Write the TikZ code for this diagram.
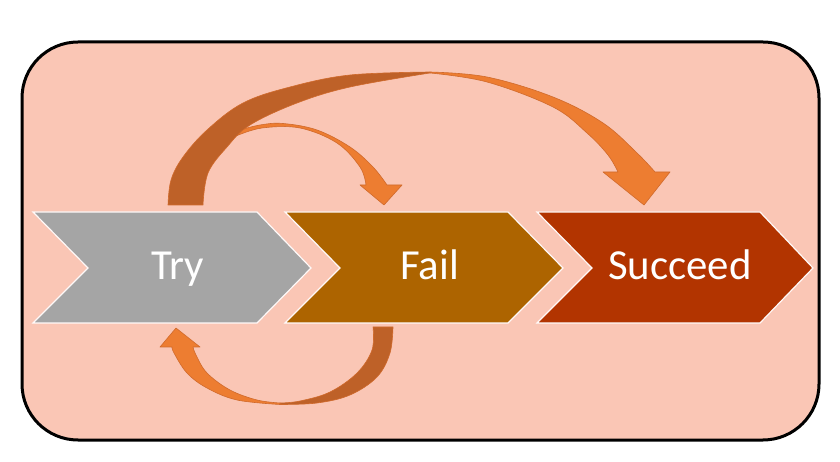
\documentclass[tikz,border=0pt]{standalone}
\usepackage{fontspec}
\setmainfont{Carlito}
\definecolor{salmon}{HTML}{FAC6B5}
\definecolor{trygray}{HTML}{A5A5A5}
\definecolor{failbrown}{HTML}{AD6400}
\definecolor{succred}{HTML}{B23400}
\definecolor{arrdark}{HTML}{BE6128}
\definecolor{arrlight}{HTML}{ED7D31}
\definecolor{arredge}{HTML}{D06A2C}
\tikzset{
  chevbox/.style={draw=white!90!salmon, line width=1.2bp, line join=miter},
  lbl/.style={text=white, font=\fontsize{43}{50}\selectfont, anchor=base, inner sep=0pt},
  ribbon/.style={draw=arredge, line width=0.6bp, line join=round},
}
\begin{document}
\begin{tikzpicture}[x=1bp,y=-1bp]
\useasboundingbox (0,0) rectangle (840,462);
\fill[white] (0,0) rectangle (840,462);
% outer panel
\draw[line width=3bp, fill=salmon, rounded corners=56bp] (22,42) rectangle (819,440);
% chevrons
\path[chevbox, fill=trygray] (33,212) -- (257,212) -- (311,268) -- (257,323) -- (33,323) -- (88,268) -- cycle;
\path[chevbox, fill=failbrown] (285,212) -- (508,212) -- (563,268) -- (508,323) -- (285,323) -- (340,268) -- cycle;
\path[chevbox, fill=succred] (537,212) -- (760,212) -- (813,268) -- (760,323) -- (537,323) -- (592,268) -- cycle;
\node[lbl] (try) at (177.5,280) {Try};
\node[lbl] (fail) at (429.5,280) {Fail};
\node[lbl] (succeed) at (680,280) {Succeed};
% small arrow Try -> Fail
\path[ribbon, fill=arrlight] plot[smooth, tension=0.6] coordinates {(236,131) (260,125) (283,123.5) (317,130) (350,147) (373,167) (387,185)}
  -- (402,185) -- (384,205) -- (360,185) -- (366,185)
  -- plot[smooth, tension=0.6] coordinates {(366,185) (360,167) (337,143) (300,128) (262,128) (236,136)} -- cycle;
% big arrow Try -> Succeed (back part)
\path[ribbon, fill=arrdark] plot[smooth, tension=0.6] coordinates {(168,205) (171,180) (183,157) (207,130) (243,103) (290,87) (350,75) (430,72)}
  -- plot[smooth, tension=0.6] coordinates {(430,73) (350,87) (297,103) (250,125) (227,147) (208,173) (203,205)} -- cycle;
% big arrow front part
\path[ribbon, fill=arrlight] plot[smooth, tension=0.6] coordinates {(430,72) (487,77) (553,97) (603,123) (637,153) (655,172)}
  -- (670,172) -- (644,205) -- (603,172) -- (618,172)
  -- plot[smooth, tension=0.6] coordinates {(618,172) (608,155) (587,133) (553,107) (487,82) (430,73)} -- cycle;
% bottom arrow Fail -> Try (back part)
\path[ribbon, fill=arrdark] plot[smooth, tension=0.6] coordinates {(393,327) (390,353) (377,377) (350,395) (317,403) (280,404.5)}
  -- plot[smooth, tension=0.6] coordinates {(280,403) (300,401) (330,392) (357,373) (372,350) (373,327)} -- cycle;
% bottom arrow front part
\path[ribbon, fill=arrlight] plot[smooth, tension=0.6] coordinates {(280,404.5) (237,400) (207,388) (187,373) (174,353) (172,347)}
  -- (160,347) -- (176,328) -- (200,347) -- (193,347)
  -- plot[smooth, tension=0.6] coordinates {(193,347) (196,355) (207,373) (230,390) (257,400) (280,403)} -- cycle;
\end{tikzpicture}
\end{document}
